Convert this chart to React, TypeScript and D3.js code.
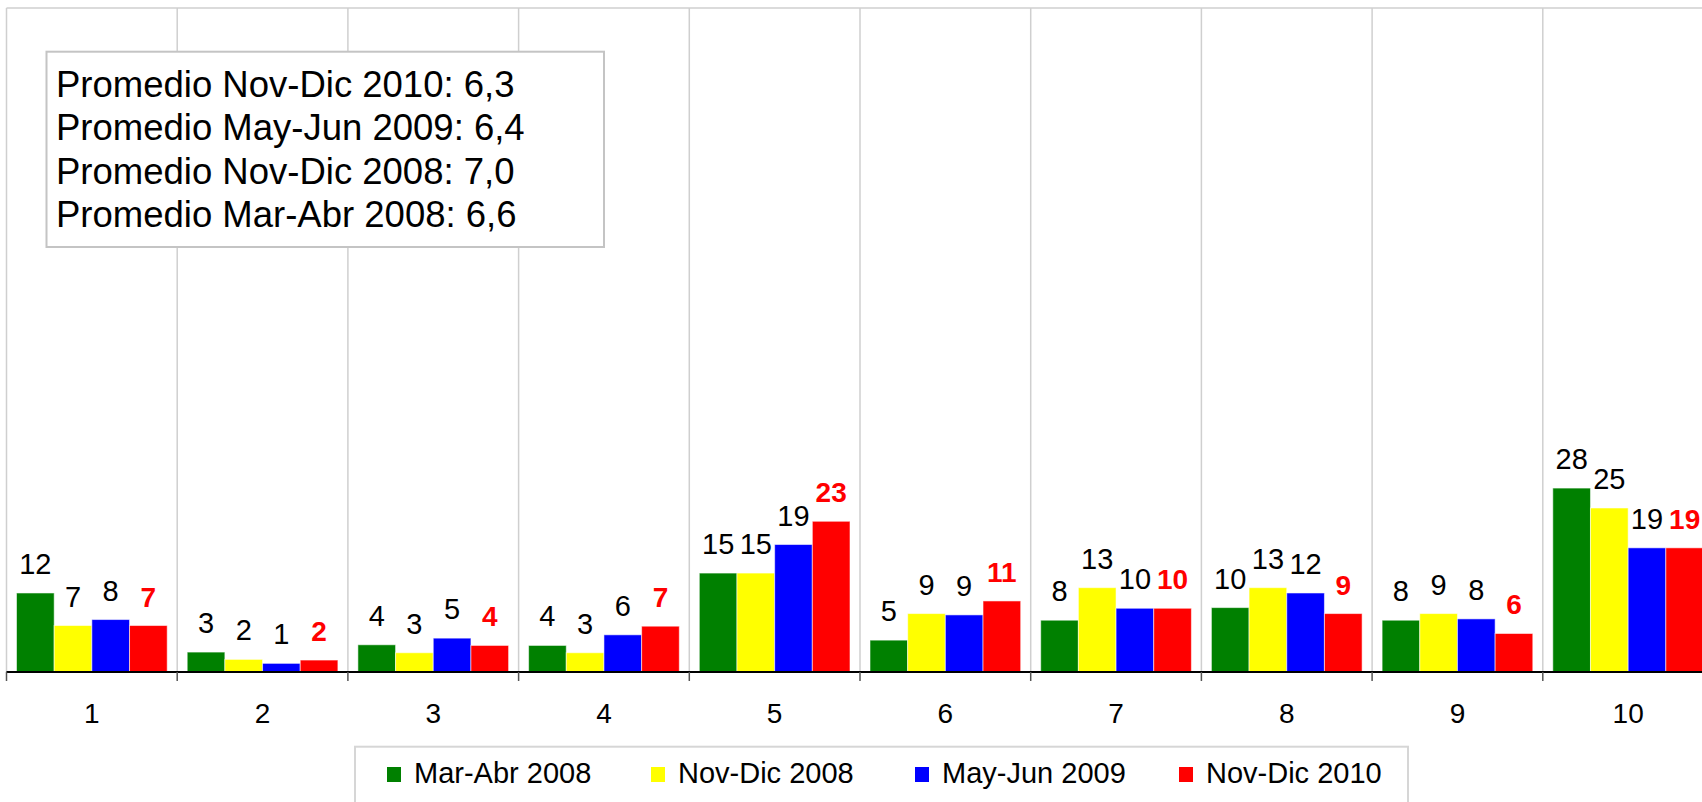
import React from "react";
import * as d3 from "d3";

const categories = ["1", "2", "3", "4", "5", "6", "7", "8", "9", "10"];
const seriesNames = ["Mar-Abr 2008", "Nov-Dic 2008", "May-Jun 2009", "Nov-Dic 2010"];
const marAbr2008 = [11.9, 3.0, 4.1, 4.0, 14.9, 4.8, 7.8, 9.7, 7.8, 27.7];
const novDic2008 = [7.0, 1.9, 2.9, 2.9, 14.9, 8.8, 12.7, 12.7, 8.8, 24.7];
const mayJun2009 = [7.9, 1.3, 5.1, 5.6, 19.2, 8.6, 9.6, 11.9, 8.0, 18.7];
const novDic2010 = [7.0, 1.8, 4.0, 6.9, 22.7, 10.7, 9.6, 8.8, 5.8, 18.7];
const seriesColors = ["#008000", "#ffff00", "#0000ff", "#ff0000"];
const averageLines = [
  "Promedio Nov-Dic 2010: 6,3",
  "Promedio May-Jun 2009: 6,4",
  "Promedio Nov-Dic 2008: 7,0",
  "Promedio Mar-Abr 2008: 6,6",
];

const W = 1702;
const H = 802;
const font = "'Liberation Sans', Arial, sans-serif";

export default function App() {
  const series = [marAbr2008, novDic2008, mayJun2009, novDic2010];

  const left = 6.5;
  const top = 8;
  const baseline = 672;
  const band = 170.7;

  const x = d3
    .scaleBand<string>()
    .domain(categories)
    .range([left, left + band * categories.length])
    .padding(0);

  // bars inside each category
  const xs = d3
    .scaleBand<number>()
    .domain(d3.range(series.length))
    .range([10, x.bandwidth() - 10])
    .padding(0);

  const y = d3.scaleLinear().domain([0, 100]).range([baseline, top]);
  const fmt = d3.format(".0f");

  const boundaries = categories.map((c) => x(c) as number).concat([left + band * categories.length]);

  return (
    <svg
      width={W}
      height={H}
      style={{ position: "absolute", left: 0, top: 0, background: "#fff" }}
    >
      {/* plot frame + grid */}
      <line x1={left} x2={W} y1={top} y2={top} stroke="#cfcfcf" strokeWidth={1.5} />
      {boundaries.map((b, i) => (
        <line key={"g" + i} x1={b} x2={b} y1={top} y2={baseline} stroke="#cfcfcf" strokeWidth={1.5} />
      ))}

      {/* bars */}
      {categories.map((c, ci) => (
        <g key={c} transform={`translate(${x(c)},0)`}>
          {series.map((vals, si) => (
            <rect
              key={si}
              x={xs(si)}
              y={y(vals[ci])}
              width={xs.bandwidth()}
              height={baseline - y(vals[ci])}
              fill={seriesColors[si]}
              stroke="rgba(255,255,255,0.55)"
              strokeWidth={1}
            />
          ))}
          {series.map((vals, si) => (
            <text
              key={"t" + si}
              x={(xs(si) as number) + xs.bandwidth() / 2}
              y={y(vals[ci]) - 19}
              textAnchor="middle"
              fontFamily={font}
              fontSize={si === 3 ? 28 : 29}
              fontWeight={si === 3 ? "bold" : "normal"}
              fill={si === 3 ? "#ff0000" : "#000"}
            >
              {fmt(vals[ci])}
            </text>
          ))}
        </g>
      ))}

      {/* x axis */}
      <line x1={left} x2={W} y1={baseline} y2={baseline} stroke="#000" strokeWidth={2} />
      {boundaries.map((b, i) => (
        <line key={"k" + i} x1={b} x2={b} y1={baseline} y2={baseline + 9} stroke="#555" strokeWidth={1.5} />
      ))}
      {categories.map((c) => (
        <text
          key={"l" + c}
          x={(x(c) as number) + x.bandwidth() / 2}
          y={723}
          textAnchor="middle"
          fontFamily={font}
          fontSize={28}
          fill="#000"
        >
          {c}
        </text>
      ))}

      {/* averages box */}
      <rect x={46.5} y={51.7} width={557.5} height={195.3} fill="#fff" stroke="#c4c4c4" strokeWidth={2} />
      {averageLines.map((t, i) => (
        <text key={"a" + i} x={56} y={97 + i * 43.4} fontFamily={font} fontSize={36.5} fill="#000">
          {t}
        </text>
      ))}

      {/* legend */}
      <rect x={355} y={746.7} width={1053} height={80} fill="#fff" stroke="#d6d6d6" strokeWidth={2} />
      {seriesNames.map((n, i) => (
        <g key={"lg" + i} transform={`translate(${387 + i * 264},0)`}>
          <rect x={0} y={767} width={14} height={15} fill={seriesColors[i]} />
          <text x={27} y={783} fontFamily={font} fontSize={29} fill="#000">
            {n}
          </text>
        </g>
      ))}
    </svg>
  );
}
